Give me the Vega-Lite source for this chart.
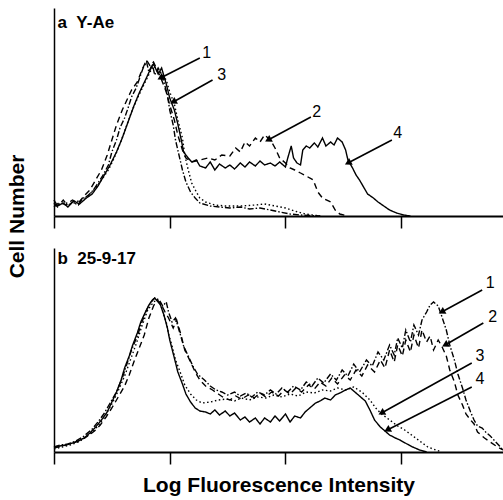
{
  "$schema": "https://vega.github.io/schema/vega-lite/v6.json",
  "background": "white",
  "padding": {"left": 6, "top": 8, "right": 0, "bottom": 2},
  "bounds": "flush",
  "spacing": 32,
  "config": {
    "view": {"stroke": null},
    "font": "Liberation Sans",
    "axis": {"grid": false}
  },
  "datasets": {
    "curves": [
      {"p":"a","c":"1","x":0,"y":13},{"p":"a","c":"1","x":0.03,"y":9},{"p":"a","c":"1","x":0.08,"y":16},{"p":"a","c":"1","x":0.12,"y":10},{"p":"a","c":"1","x":0.16,"y":14},{"p":"a","c":"1","x":0.21,"y":11},{"p":"a","c":"1","x":0.25,"y":18},{"p":"a","c":"1","x":0.29,"y":20},{"p":"a","c":"1","x":0.34,"y":26},{"p":"a","c":"1","x":0.38,"y":33},{"p":"a","c":"1","x":0.42,"y":40},{"p":"a","c":"1","x":0.47,"y":51},{"p":"a","c":"1","x":0.50,"y":64},{"p":"a","c":"1","x":0.54,"y":76},{"p":"a","c":"1","x":0.57,"y":88},{"p":"a","c":"1","x":0.61,"y":98},{"p":"a","c":"1","x":0.64,"y":108},{"p":"a","c":"1","x":0.67,"y":119},{"p":"a","c":"1","x":0.71,"y":128},{"p":"a","c":"1","x":0.74,"y":138},{"p":"a","c":"1","x":0.77,"y":148},{"p":"a","c":"1","x":0.80,"y":154},{"p":"a","c":"1","x":0.82,"y":144},{"p":"a","c":"1","x":0.85,"y":152},{"p":"a","c":"1","x":0.87,"y":141},{"p":"a","c":"1","x":0.90,"y":148},{"p":"a","c":"1","x":0.92,"y":144},{"p":"a","c":"1","x":0.95,"y":134},{"p":"a","c":"1","x":0.98,"y":121},{"p":"a","c":"1","x":1.00,"y":106},{"p":"a","c":"1","x":1.03,"y":91},{"p":"a","c":"1","x":1.05,"y":76},{"p":"a","c":"1","x":1.08,"y":61},{"p":"a","c":"1","x":1.11,"y":46},{"p":"a","c":"1","x":1.14,"y":34},{"p":"a","c":"1","x":1.18,"y":24},{"p":"a","c":"1","x":1.22,"y":18},{"p":"a","c":"1","x":1.26,"y":13},{"p":"a","c":"1","x":1.35,"y":10},{"p":"a","c":"1","x":1.43,"y":9},{"p":"a","c":"1","x":1.52,"y":8},{"p":"a","c":"1","x":1.61,"y":9},{"p":"a","c":"1","x":1.69,"y":7},{"p":"a","c":"1","x":1.78,"y":8},{"p":"a","c":"1","x":1.87,"y":6},{"p":"a","c":"1","x":1.95,"y":4},{"p":"a","c":"1","x":2.04,"y":2},{"p":"a","c":"1","x":2.13,"y":1},{"p":"a","c":"1","x":2.30,"y":0},

      {"p":"a","c":"3","x":0,"y":11},{"p":"a","c":"3","x":0.05,"y":12},{"p":"a","c":"3","x":0.10,"y":13},{"p":"a","c":"3","x":0.16,"y":12},{"p":"a","c":"3","x":0.21,"y":15},{"p":"a","c":"3","x":0.26,"y":17},{"p":"a","c":"3","x":0.31,"y":22},{"p":"a","c":"3","x":0.36,"y":28},{"p":"a","c":"3","x":0.41,"y":36},{"p":"a","c":"3","x":0.47,"y":46},{"p":"a","c":"3","x":0.52,"y":58},{"p":"a","c":"3","x":0.57,"y":72},{"p":"a","c":"3","x":0.62,"y":88},{"p":"a","c":"3","x":0.67,"y":104},{"p":"a","c":"3","x":0.73,"y":120},{"p":"a","c":"3","x":0.78,"y":132},{"p":"a","c":"3","x":0.83,"y":144},{"p":"a","c":"3","x":0.86,"y":150},{"p":"a","c":"3","x":0.90,"y":146},{"p":"a","c":"3","x":0.93,"y":142},{"p":"a","c":"3","x":0.97,"y":136},{"p":"a","c":"3","x":1.00,"y":124},{"p":"a","c":"3","x":1.04,"y":112},{"p":"a","c":"3","x":1.07,"y":96},{"p":"a","c":"3","x":1.11,"y":78},{"p":"a","c":"3","x":1.13,"y":61},{"p":"a","c":"3","x":1.16,"y":46},{"p":"a","c":"3","x":1.19,"y":33},{"p":"a","c":"3","x":1.23,"y":24},{"p":"a","c":"3","x":1.26,"y":18},{"p":"a","c":"3","x":1.31,"y":14},{"p":"a","c":"3","x":1.39,"y":11},{"p":"a","c":"3","x":1.48,"y":10},{"p":"a","c":"3","x":1.61,"y":10},{"p":"a","c":"3","x":1.74,"y":11},{"p":"a","c":"3","x":1.82,"y":12},{"p":"a","c":"3","x":1.91,"y":10},{"p":"a","c":"3","x":2.00,"y":8},{"p":"a","c":"3","x":2.08,"y":5},{"p":"a","c":"3","x":2.17,"y":2},{"p":"a","c":"3","x":2.30,"y":0},

      {"p":"a","c":"2","x":0,"y":9},{"p":"a","c":"2","x":0.05,"y":14},{"p":"a","c":"2","x":0.10,"y":11},{"p":"a","c":"2","x":0.16,"y":16},{"p":"a","c":"2","x":0.21,"y":13},{"p":"a","c":"2","x":0.26,"y":20},{"p":"a","c":"2","x":0.31,"y":26},{"p":"a","c":"2","x":0.36,"y":36},{"p":"a","c":"2","x":0.41,"y":46},{"p":"a","c":"2","x":0.46,"y":61},{"p":"a","c":"2","x":0.50,"y":76},{"p":"a","c":"2","x":0.54,"y":91},{"p":"a","c":"2","x":0.59,"y":106},{"p":"a","c":"2","x":0.63,"y":116},{"p":"a","c":"2","x":0.67,"y":126},{"p":"a","c":"2","x":0.72,"y":134},{"p":"a","c":"2","x":0.76,"y":146},{"p":"a","c":"2","x":0.80,"y":156},{"p":"a","c":"2","x":0.83,"y":150},{"p":"a","c":"2","x":0.86,"y":154},{"p":"a","c":"2","x":0.90,"y":144},{"p":"a","c":"2","x":0.93,"y":136},{"p":"a","c":"2","x":0.97,"y":124},{"p":"a","c":"2","x":1.00,"y":111},{"p":"a","c":"2","x":1.04,"y":96},{"p":"a","c":"2","x":1.07,"y":81},{"p":"a","c":"2","x":1.11,"y":66},{"p":"a","c":"2","x":1.14,"y":58},{"p":"a","c":"2","x":1.19,"y":54},{"p":"a","c":"2","x":1.26,"y":56},{"p":"a","c":"2","x":1.33,"y":58},{"p":"a","c":"2","x":1.39,"y":56},{"p":"a","c":"2","x":1.45,"y":61},{"p":"a","c":"2","x":1.52,"y":60},{"p":"a","c":"2","x":1.57,"y":68},{"p":"a","c":"2","x":1.61,"y":64},{"p":"a","c":"2","x":1.65,"y":74},{"p":"a","c":"2","x":1.69,"y":70},{"p":"a","c":"2","x":1.74,"y":78},{"p":"a","c":"2","x":1.78,"y":74},{"p":"a","c":"2","x":1.82,"y":81},{"p":"a","c":"2","x":1.87,"y":76},{"p":"a","c":"2","x":1.91,"y":68},{"p":"a","c":"2","x":1.95,"y":58},{"p":"a","c":"2","x":2.00,"y":53},{"p":"a","c":"2","x":2.04,"y":48},{"p":"a","c":"2","x":2.08,"y":46},{"p":"a","c":"2","x":2.13,"y":43},{"p":"a","c":"2","x":2.18,"y":40},{"p":"a","c":"2","x":2.24,"y":36},{"p":"a","c":"2","x":2.28,"y":24},{"p":"a","c":"2","x":2.32,"y":18},{"p":"a","c":"2","x":2.39,"y":14},{"p":"a","c":"2","x":2.43,"y":6},{"p":"a","c":"2","x":2.47,"y":2},{"p":"a","c":"2","x":2.54,"y":0},

      {"p":"a","c":"4","x":0,"y":16},{"p":"a","c":"4","x":0.03,"y":10},{"p":"a","c":"4","x":0.08,"y":13},{"p":"a","c":"4","x":0.12,"y":9},{"p":"a","c":"4","x":0.17,"y":15},{"p":"a","c":"4","x":0.22,"y":12},{"p":"a","c":"4","x":0.28,"y":18},{"p":"a","c":"4","x":0.33,"y":22},{"p":"a","c":"4","x":0.38,"y":30},{"p":"a","c":"4","x":0.43,"y":40},{"p":"a","c":"4","x":0.48,"y":50},{"p":"a","c":"4","x":0.54,"y":64},{"p":"a","c":"4","x":0.59,"y":78},{"p":"a","c":"4","x":0.64,"y":94},{"p":"a","c":"4","x":0.69,"y":110},{"p":"a","c":"4","x":0.74,"y":124},{"p":"a","c":"4","x":0.79,"y":136},{"p":"a","c":"4","x":0.83,"y":146},{"p":"a","c":"4","x":0.86,"y":152},{"p":"a","c":"4","x":0.90,"y":142},{"p":"a","c":"4","x":0.93,"y":148},{"p":"a","c":"4","x":0.97,"y":132},{"p":"a","c":"4","x":1.00,"y":118},{"p":"a","c":"4","x":1.04,"y":106},{"p":"a","c":"4","x":1.07,"y":92},{"p":"a","c":"4","x":1.10,"y":76},{"p":"a","c":"4","x":1.12,"y":64},{"p":"a","c":"4","x":1.16,"y":58},{"p":"a","c":"4","x":1.19,"y":54},{"p":"a","c":"4","x":1.23,"y":56},{"p":"a","c":"4","x":1.26,"y":50},{"p":"a","c":"4","x":1.31,"y":48},{"p":"a","c":"4","x":1.35,"y":54},{"p":"a","c":"4","x":1.39,"y":46},{"p":"a","c":"4","x":1.43,"y":52},{"p":"a","c":"4","x":1.48,"y":48},{"p":"a","c":"4","x":1.52,"y":51},{"p":"a","c":"4","x":1.56,"y":47},{"p":"a","c":"4","x":1.61,"y":53},{"p":"a","c":"4","x":1.65,"y":49},{"p":"a","c":"4","x":1.69,"y":54},{"p":"a","c":"4","x":1.74,"y":50},{"p":"a","c":"4","x":1.78,"y":55},{"p":"a","c":"4","x":1.82,"y":51},{"p":"a","c":"4","x":1.87,"y":53},{"p":"a","c":"4","x":1.91,"y":50},{"p":"a","c":"4","x":1.95,"y":54},{"p":"a","c":"4","x":2.00,"y":49},{"p":"a","c":"4","x":2.02,"y":58},{"p":"a","c":"4","x":2.05,"y":70},{"p":"a","c":"4","x":2.07,"y":58},{"p":"a","c":"4","x":2.10,"y":53},{"p":"a","c":"4","x":2.13,"y":51},{"p":"a","c":"4","x":2.15,"y":66},{"p":"a","c":"4","x":2.18,"y":70},{"p":"a","c":"4","x":2.21,"y":68},{"p":"a","c":"4","x":2.25,"y":73},{"p":"a","c":"4","x":2.28,"y":69},{"p":"a","c":"4","x":2.32,"y":78},{"p":"a","c":"4","x":2.35,"y":70},{"p":"a","c":"4","x":2.39,"y":74},{"p":"a","c":"4","x":2.42,"y":71},{"p":"a","c":"4","x":2.45,"y":78},{"p":"a","c":"4","x":2.49,"y":74},{"p":"a","c":"4","x":2.52,"y":66},{"p":"a","c":"4","x":2.54,"y":56},{"p":"a","c":"4","x":2.58,"y":48},{"p":"a","c":"4","x":2.61,"y":41},{"p":"a","c":"4","x":2.64,"y":36},{"p":"a","c":"4","x":2.68,"y":28},{"p":"a","c":"4","x":2.71,"y":22},{"p":"a","c":"4","x":2.76,"y":18},{"p":"a","c":"4","x":2.80,"y":14},{"p":"a","c":"4","x":2.85,"y":10},{"p":"a","c":"4","x":2.90,"y":6},{"p":"a","c":"4","x":2.96,"y":3},{"p":"a","c":"4","x":3.02,"y":1},{"p":"a","c":"4","x":3.08,"y":0},

      {"p":"b","c":"4","x":0,"y":5},{"p":"b","c":"4","x":0.05,"y":6},{"p":"b","c":"4","x":0.10,"y":7},{"p":"b","c":"4","x":0.16,"y":9},{"p":"b","c":"4","x":0.21,"y":11},{"p":"b","c":"4","x":0.26,"y":14},{"p":"b","c":"4","x":0.31,"y":19},{"p":"b","c":"4","x":0.36,"y":25},{"p":"b","c":"4","x":0.41,"y":32},{"p":"b","c":"4","x":0.46,"y":40},{"p":"b","c":"4","x":0.50,"y":50},{"p":"b","c":"4","x":0.54,"y":60},{"p":"b","c":"4","x":0.58,"y":72},{"p":"b","c":"4","x":0.61,"y":84},{"p":"b","c":"4","x":0.65,"y":96},{"p":"b","c":"4","x":0.68,"y":107},{"p":"b","c":"4","x":0.72,"y":119},{"p":"b","c":"4","x":0.75,"y":130},{"p":"b","c":"4","x":0.79,"y":140},{"p":"b","c":"4","x":0.82,"y":147},{"p":"b","c":"4","x":0.85,"y":152},{"p":"b","c":"4","x":0.87,"y":154},{"p":"b","c":"4","x":0.90,"y":150},{"p":"b","c":"4","x":0.92,"y":147},{"p":"b","c":"4","x":0.95,"y":137},{"p":"b","c":"4","x":0.98,"y":124},{"p":"b","c":"4","x":1.00,"y":112},{"p":"b","c":"4","x":1.04,"y":94},{"p":"b","c":"4","x":1.07,"y":80},{"p":"b","c":"4","x":1.11,"y":68},{"p":"b","c":"4","x":1.14,"y":58},{"p":"b","c":"4","x":1.18,"y":50},{"p":"b","c":"4","x":1.22,"y":44},{"p":"b","c":"4","x":1.26,"y":41},{"p":"b","c":"4","x":1.31,"y":40},{"p":"b","c":"4","x":1.35,"y":38},{"p":"b","c":"4","x":1.39,"y":42},{"p":"b","c":"4","x":1.43,"y":37},{"p":"b","c":"4","x":1.48,"y":41},{"p":"b","c":"4","x":1.52,"y":36},{"p":"b","c":"4","x":1.56,"y":39},{"p":"b","c":"4","x":1.61,"y":32},{"p":"b","c":"4","x":1.65,"y":35},{"p":"b","c":"4","x":1.69,"y":30},{"p":"b","c":"4","x":1.74,"y":34},{"p":"b","c":"4","x":1.78,"y":28},{"p":"b","c":"4","x":1.82,"y":34},{"p":"b","c":"4","x":1.87,"y":30},{"p":"b","c":"4","x":1.91,"y":36},{"p":"b","c":"4","x":1.95,"y":31},{"p":"b","c":"4","x":2.00,"y":38},{"p":"b","c":"4","x":2.04,"y":30},{"p":"b","c":"4","x":2.08,"y":36},{"p":"b","c":"4","x":2.13,"y":34},{"p":"b","c":"4","x":2.17,"y":40},{"p":"b","c":"4","x":2.21,"y":44},{"p":"b","c":"4","x":2.26,"y":49},{"p":"b","c":"4","x":2.30,"y":51},{"p":"b","c":"4","x":2.34,"y":54},{"p":"b","c":"4","x":2.39,"y":52},{"p":"b","c":"4","x":2.43,"y":57},{"p":"b","c":"4","x":2.47,"y":59},{"p":"b","c":"4","x":2.52,"y":62},{"p":"b","c":"4","x":2.56,"y":64},{"p":"b","c":"4","x":2.60,"y":60},{"p":"b","c":"4","x":2.64,"y":56},{"p":"b","c":"4","x":2.69,"y":51},{"p":"b","c":"4","x":2.73,"y":42},{"p":"b","c":"4","x":2.77,"y":32},{"p":"b","c":"4","x":2.82,"y":25},{"p":"b","c":"4","x":2.86,"y":21},{"p":"b","c":"4","x":2.90,"y":17},{"p":"b","c":"4","x":2.95,"y":14},{"p":"b","c":"4","x":2.99,"y":12},{"p":"b","c":"4","x":3.05,"y":8},{"p":"b","c":"4","x":3.10,"y":5},{"p":"b","c":"4","x":3.16,"y":2},{"p":"b","c":"4","x":3.22,"y":0},

      {"p":"b","c":"3","x":0,"y":3},{"p":"b","c":"3","x":0.07,"y":5},{"p":"b","c":"3","x":0.14,"y":7},{"p":"b","c":"3","x":0.21,"y":10},{"p":"b","c":"3","x":0.28,"y":15},{"p":"b","c":"3","x":0.35,"y":22},{"p":"b","c":"3","x":0.40,"y":29},{"p":"b","c":"3","x":0.45,"y":38},{"p":"b","c":"3","x":0.50,"y":48},{"p":"b","c":"3","x":0.55,"y":60},{"p":"b","c":"3","x":0.61,"y":76},{"p":"b","c":"3","x":0.66,"y":92},{"p":"b","c":"3","x":0.71,"y":108},{"p":"b","c":"3","x":0.76,"y":126},{"p":"b","c":"3","x":0.81,"y":142},{"p":"b","c":"3","x":0.86,"y":150},{"p":"b","c":"3","x":0.89,"y":152},{"p":"b","c":"3","x":0.92,"y":148},{"p":"b","c":"3","x":0.94,"y":140},{"p":"b","c":"3","x":0.97,"y":130},{"p":"b","c":"3","x":0.99,"y":118},{"p":"b","c":"3","x":1.02,"y":106},{"p":"b","c":"3","x":1.05,"y":92},{"p":"b","c":"3","x":1.09,"y":80},{"p":"b","c":"3","x":1.13,"y":67},{"p":"b","c":"3","x":1.18,"y":58},{"p":"b","c":"3","x":1.23,"y":52},{"p":"b","c":"3","x":1.28,"y":49},{"p":"b","c":"3","x":1.35,"y":50},{"p":"b","c":"3","x":1.42,"y":52},{"p":"b","c":"3","x":1.49,"y":53},{"p":"b","c":"3","x":1.56,"y":51},{"p":"b","c":"3","x":1.62,"y":54},{"p":"b","c":"3","x":1.69,"y":52},{"p":"b","c":"3","x":1.76,"y":55},{"p":"b","c":"3","x":1.83,"y":54},{"p":"b","c":"3","x":1.90,"y":57},{"p":"b","c":"3","x":1.97,"y":55},{"p":"b","c":"3","x":2.04,"y":58},{"p":"b","c":"3","x":2.11,"y":56},{"p":"b","c":"3","x":2.18,"y":60},{"p":"b","c":"3","x":2.25,"y":59},{"p":"b","c":"3","x":2.32,"y":62},{"p":"b","c":"3","x":2.39,"y":61},{"p":"b","c":"3","x":2.45,"y":64},{"p":"b","c":"3","x":2.52,"y":62},{"p":"b","c":"3","x":2.59,"y":65},{"p":"b","c":"3","x":2.66,"y":60},{"p":"b","c":"3","x":2.73,"y":52},{"p":"b","c":"3","x":2.78,"y":44},{"p":"b","c":"3","x":2.83,"y":38},{"p":"b","c":"3","x":2.90,"y":32},{"p":"b","c":"3","x":2.97,"y":26},{"p":"b","c":"3","x":3.03,"y":22},{"p":"b","c":"3","x":3.09,"y":17},{"p":"b","c":"3","x":3.16,"y":11},{"p":"b","c":"3","x":3.23,"y":5},{"p":"b","c":"3","x":3.30,"y":2},{"p":"b","c":"3","x":3.35,"y":0},

      {"p":"b","c":"2","x":0,"y":4},{"p":"b","c":"2","x":0.07,"y":6},{"p":"b","c":"2","x":0.14,"y":8},{"p":"b","c":"2","x":0.21,"y":11},{"p":"b","c":"2","x":0.28,"y":15},{"p":"b","c":"2","x":0.35,"y":21},{"p":"b","c":"2","x":0.40,"y":27},{"p":"b","c":"2","x":0.45,"y":35},{"p":"b","c":"2","x":0.50,"y":44},{"p":"b","c":"2","x":0.55,"y":54},{"p":"b","c":"2","x":0.61,"y":66},{"p":"b","c":"2","x":0.65,"y":77},{"p":"b","c":"2","x":0.69,"y":90},{"p":"b","c":"2","x":0.73,"y":102},{"p":"b","c":"2","x":0.78,"y":117},{"p":"b","c":"2","x":0.82,"y":134},{"p":"b","c":"2","x":0.86,"y":146},{"p":"b","c":"2","x":0.89,"y":152},{"p":"b","c":"2","x":0.92,"y":149},{"p":"b","c":"2","x":0.96,"y":140},{"p":"b","c":"2","x":0.99,"y":134},{"p":"b","c":"2","x":1.03,"y":124},{"p":"b","c":"2","x":1.06,"y":132},{"p":"b","c":"2","x":1.10,"y":116},{"p":"b","c":"2","x":1.13,"y":102},{"p":"b","c":"2","x":1.18,"y":90},{"p":"b","c":"2","x":1.22,"y":80},{"p":"b","c":"2","x":1.26,"y":72},{"p":"b","c":"2","x":1.31,"y":66},{"p":"b","c":"2","x":1.37,"y":62},{"p":"b","c":"2","x":1.42,"y":58},{"p":"b","c":"2","x":1.47,"y":54},{"p":"b","c":"2","x":1.52,"y":52},{"p":"b","c":"2","x":1.57,"y":56},{"p":"b","c":"2","x":1.62,"y":53},{"p":"b","c":"2","x":1.68,"y":57},{"p":"b","c":"2","x":1.73,"y":54},{"p":"b","c":"2","x":1.78,"y":59},{"p":"b","c":"2","x":1.83,"y":55},{"p":"b","c":"2","x":1.88,"y":60},{"p":"b","c":"2","x":1.94,"y":56},{"p":"b","c":"2","x":1.99,"y":62},{"p":"b","c":"2","x":2.04,"y":58},{"p":"b","c":"2","x":2.09,"y":64},{"p":"b","c":"2","x":2.14,"y":60},{"p":"b","c":"2","x":2.20,"y":67},{"p":"b","c":"2","x":2.25,"y":63},{"p":"b","c":"2","x":2.30,"y":70},{"p":"b","c":"2","x":2.35,"y":66},{"p":"b","c":"2","x":2.40,"y":74},{"p":"b","c":"2","x":2.45,"y":68},{"p":"b","c":"2","x":2.51,"y":77},{"p":"b","c":"2","x":2.56,"y":72},{"p":"b","c":"2","x":2.61,"y":82},{"p":"b","c":"2","x":2.66,"y":76},{"p":"b","c":"2","x":2.71,"y":87},{"p":"b","c":"2","x":2.77,"y":80},{"p":"b","c":"2","x":2.82,"y":92},{"p":"b","c":"2","x":2.86,"y":84},{"p":"b","c":"2","x":2.90,"y":102},{"p":"b","c":"2","x":2.94,"y":90},{"p":"b","c":"2","x":2.97,"y":107},{"p":"b","c":"2","x":3.01,"y":96},{"p":"b","c":"2","x":3.04,"y":112},{"p":"b","c":"2","x":3.08,"y":100},{"p":"b","c":"2","x":3.11,"y":117},{"p":"b","c":"2","x":3.15,"y":104},{"p":"b","c":"2","x":3.18,"y":122},{"p":"b","c":"2","x":3.22,"y":110},{"p":"b","c":"2","x":3.25,"y":116},{"p":"b","c":"2","x":3.28,"y":102},{"p":"b","c":"2","x":3.32,"y":112},{"p":"b","c":"2","x":3.35,"y":106},{"p":"b","c":"2","x":3.39,"y":96},{"p":"b","c":"2","x":3.42,"y":82},{"p":"b","c":"2","x":3.46,"y":70},{"p":"b","c":"2","x":3.49,"y":57},{"p":"b","c":"2","x":3.53,"y":47},{"p":"b","c":"2","x":3.56,"y":38},{"p":"b","c":"2","x":3.60,"y":32},{"p":"b","c":"2","x":3.63,"y":28},{"p":"b","c":"2","x":3.66,"y":20},{"p":"b","c":"2","x":3.72,"y":14},{"p":"b","c":"2","x":3.77,"y":10},{"p":"b","c":"2","x":3.82,"y":6},{"p":"b","c":"2","x":3.88,"y":2},

      {"p":"b","c":"1","x":0,"y":5},{"p":"b","c":"1","x":0.05,"y":7},{"p":"b","c":"1","x":0.12,"y":8},{"p":"b","c":"1","x":0.19,"y":11},{"p":"b","c":"1","x":0.26,"y":16},{"p":"b","c":"1","x":0.33,"y":23},{"p":"b","c":"1","x":0.38,"y":30},{"p":"b","c":"1","x":0.43,"y":38},{"p":"b","c":"1","x":0.48,"y":48},{"p":"b","c":"1","x":0.54,"y":60},{"p":"b","c":"1","x":0.59,"y":74},{"p":"b","c":"1","x":0.63,"y":88},{"p":"b","c":"1","x":0.67,"y":102},{"p":"b","c":"1","x":0.72,"y":116},{"p":"b","c":"1","x":0.76,"y":130},{"p":"b","c":"1","x":0.80,"y":142},{"p":"b","c":"1","x":0.84,"y":150},{"p":"b","c":"1","x":0.87,"y":154},{"p":"b","c":"1","x":0.91,"y":152},{"p":"b","c":"1","x":0.94,"y":146},{"p":"b","c":"1","x":0.97,"y":150},{"p":"b","c":"1","x":0.99,"y":140},{"p":"b","c":"1","x":1.02,"y":130},{"p":"b","c":"1","x":1.05,"y":134},{"p":"b","c":"1","x":1.09,"y":118},{"p":"b","c":"1","x":1.12,"y":106},{"p":"b","c":"1","x":1.16,"y":96},{"p":"b","c":"1","x":1.20,"y":86},{"p":"b","c":"1","x":1.24,"y":78},{"p":"b","c":"1","x":1.30,"y":72},{"p":"b","c":"1","x":1.35,"y":66},{"p":"b","c":"1","x":1.40,"y":62},{"p":"b","c":"1","x":1.45,"y":60},{"p":"b","c":"1","x":1.50,"y":57},{"p":"b","c":"1","x":1.56,"y":60},{"p":"b","c":"1","x":1.61,"y":56},{"p":"b","c":"1","x":1.66,"y":59},{"p":"b","c":"1","x":1.71,"y":55},{"p":"b","c":"1","x":1.76,"y":60},{"p":"b","c":"1","x":1.82,"y":57},{"p":"b","c":"1","x":1.87,"y":62},{"p":"b","c":"1","x":1.92,"y":58},{"p":"b","c":"1","x":1.97,"y":64},{"p":"b","c":"1","x":2.02,"y":60},{"p":"b","c":"1","x":2.07,"y":66},{"p":"b","c":"1","x":2.13,"y":62},{"p":"b","c":"1","x":2.18,"y":70},{"p":"b","c":"1","x":2.23,"y":66},{"p":"b","c":"1","x":2.28,"y":74},{"p":"b","c":"1","x":2.33,"y":69},{"p":"b","c":"1","x":2.39,"y":78},{"p":"b","c":"1","x":2.44,"y":72},{"p":"b","c":"1","x":2.49,"y":82},{"p":"b","c":"1","x":2.54,"y":76},{"p":"b","c":"1","x":2.59,"y":88},{"p":"b","c":"1","x":2.64,"y":80},{"p":"b","c":"1","x":2.70,"y":92},{"p":"b","c":"1","x":2.75,"y":86},{"p":"b","c":"1","x":2.80,"y":100},{"p":"b","c":"1","x":2.85,"y":92},{"p":"b","c":"1","x":2.90,"y":107},{"p":"b","c":"1","x":2.94,"y":97},{"p":"b","c":"1","x":2.97,"y":114},{"p":"b","c":"1","x":3.01,"y":104},{"p":"b","c":"1","x":3.04,"y":122},{"p":"b","c":"1","x":3.08,"y":110},{"p":"b","c":"1","x":3.11,"y":127},{"p":"b","c":"1","x":3.15,"y":117},{"p":"b","c":"1","x":3.18,"y":132},{"p":"b","c":"1","x":3.22,"y":140},{"p":"b","c":"1","x":3.25,"y":147},{"p":"b","c":"1","x":3.28,"y":150},{"p":"b","c":"1","x":3.32,"y":146},{"p":"b","c":"1","x":3.35,"y":136},{"p":"b","c":"1","x":3.39,"y":122},{"p":"b","c":"1","x":3.42,"y":107},{"p":"b","c":"1","x":3.46,"y":92},{"p":"b","c":"1","x":3.49,"y":78},{"p":"b","c":"1","x":3.53,"y":64},{"p":"b","c":"1","x":3.56,"y":52},{"p":"b","c":"1","x":3.60,"y":40},{"p":"b","c":"1","x":3.63,"y":32},{"p":"b","c":"1","x":3.66,"y":26},{"p":"b","c":"1","x":3.70,"y":24},{"p":"b","c":"1","x":3.73,"y":20},{"p":"b","c":"1","x":3.77,"y":16},{"p":"b","c":"1","x":3.81,"y":11},{"p":"b","c":"1","x":3.85,"y":6},{"p":"b","c":"1","x":3.88,"y":2}
    ],
    "arrows": [
      {"p":"a","label":"1","x":1.26,"y":158,"hx":0.92,"hy":138,"lx":1.32,"ly":163},
      {"p":"a","label":"3","x":1.37,"y":136,"hx":1.03,"hy":114,"lx":1.45,"ly":141},
      {"p":"a","label":"2","x":2.22,"y":99,"hx":1.85,"hy":76,"lx":2.27,"ly":104},
      {"p":"a","label":"4","x":2.92,"y":76,"hx":2.54,"hy":53,"lx":2.97,"ly":83},
      {"p":"b","label":"1","x":3.70,"y":162,"hx":3.35,"hy":140,"lx":3.77,"ly":169},
      {"p":"b","label":"2","x":3.71,"y":129,"hx":3.38,"hy":107,"lx":3.79,"ly":135},
      {"p":"b","label":"3","x":3.61,"y":89,"hx":2.83,"hy":39,"lx":3.68,"ly":96},
      {"p":"b","label":"4","x":3.61,"y":65,"hx":2.88,"hy":22,"lx":3.68,"ly":73}
    ],
    "panels": [
      {"p":"a","t":"a\u00a0\u00a0Y-Ae","x":0.03,"y":193},
      {"p":"b","t":"b\u00a0\u00a025-9-17","x":0.03,"y":193}
    ]
  },
  "vconcat": [
    {
      "width": 449,
      "height": 208,
      "layer": [
        {
          "data": {"name": "curves"},
          "transform": [{"filter": "datum.p === 'a'"}],
          "mark": {"type": "line", "color": "black", "strokeWidth": 1.4},
          "encoding": {
            "x": {"field": "x", "type": "quantitative", "scale": {"domain": [0, 3.88], "nice": false, "zero": false},
              "axis": {"title": null, "values": [0, 1, 2, 3], "labels": false, "tickSize": 12, "tickColor": "black", "tickWidth": 1.5, "domainColor": "black", "domainWidth": 2}},
            "y": {"field": "y", "type": "quantitative", "scale": {"domain": [0, 208], "nice": false},
              "axis": {"title": "Cell Number", "titleX": -27, "titleY": 208, "titleFont": "Liberation Sans", "titleFontSize": 21, "titleFontWeight": "bold", "titleColor": "black", "ticks": false, "labels": false, "domainColor": "black", "domainWidth": 1.5}},
            "strokeDash": {"field": "c", "type": "nominal", "legend": null,
              "scale": {"domain": ["1", "2", "3", "4"], "range": [[6, 2, 1.5, 2], [6, 4], [1.5, 2.5], [1, 0]]}},
            "detail": {"field": "c"}
          }
        },
        {
          "data": {"name": "arrows"},
          "transform": [{"filter": "datum.p === 'a'"}],
          "mark": {"type": "rule", "color": "black", "strokeWidth": 1.6},
          "encoding": {
            "x": {"field": "x", "type": "quantitative", "scale": {"domain": [0, 3.88], "nice": false, "zero": false},
              "axis": {"title": null, "values": [0, 1, 2, 3], "labels": false, "tickSize": 12, "tickColor": "black", "tickWidth": 1.5, "domainColor": "black", "domainWidth": 2}},
            "y": {"field": "y", "type": "quantitative", "scale": {"domain": [0, 208], "nice": false},
              "axis": {"title": "Cell Number", "titleX": -27, "titleY": 208, "titleFont": "Liberation Sans", "titleFontSize": 21, "titleFontWeight": "bold", "titleColor": "black", "ticks": false, "labels": false, "domainColor": "black", "domainWidth": 1.5}},
            "x2": {"field": "hx"},
            "y2": {"field": "hy"}
          }
        },
        {
          "data": {"name": "arrows"},
          "transform": [{"filter": "datum.p === 'a'"}],
          "mark": {"type": "point", "shape": "triangle-left", "angle": 332, "filled": true, "size": 60, "color": "black", "opacity": 1},
          "encoding": {
            "x": {"field": "hx", "type": "quantitative", "scale": {"domain": [0, 3.88], "nice": false, "zero": false},
              "axis": {"title": null, "values": [0, 1, 2, 3], "labels": false, "tickSize": 12, "tickColor": "black", "tickWidth": 1.5, "domainColor": "black", "domainWidth": 2}},
            "y": {"field": "hy", "type": "quantitative", "scale": {"domain": [0, 208], "nice": false},
              "axis": {"title": "Cell Number", "titleX": -27, "titleY": 208, "titleFont": "Liberation Sans", "titleFontSize": 21, "titleFontWeight": "bold", "titleColor": "black", "ticks": false, "labels": false, "domainColor": "black", "domainWidth": 1.5}}
          }
        },
        {
          "data": {"name": "arrows"},
          "transform": [{"filter": "datum.p === 'a'"}],
          "mark": {"type": "text", "font": "Liberation Sans", "fontSize": 16, "color": "black", "align": "center", "baseline": "middle"},
          "encoding": {
            "x": {"field": "lx", "type": "quantitative", "scale": {"domain": [0, 3.88], "nice": false, "zero": false},
              "axis": {"title": null, "values": [0, 1, 2, 3], "labels": false, "tickSize": 12, "tickColor": "black", "tickWidth": 1.5, "domainColor": "black", "domainWidth": 2}},
            "y": {"field": "ly", "type": "quantitative", "scale": {"domain": [0, 208], "nice": false},
              "axis": {"title": "Cell Number", "titleX": -27, "titleY": 208, "titleFont": "Liberation Sans", "titleFontSize": 21, "titleFontWeight": "bold", "titleColor": "black", "ticks": false, "labels": false, "domainColor": "black", "domainWidth": 1.5}},
            "text": {"field": "label"}
          }
        },
        {
          "data": {"name": "panels"},
          "transform": [{"filter": "datum.p === 'a'"}],
          "mark": {"type": "text", "font": "Liberation Sans", "fontSize": 17, "fontWeight": "bold", "color": "black", "align": "left", "baseline": "middle"},
          "encoding": {
            "x": {"field": "x", "type": "quantitative", "scale": {"domain": [0, 3.88], "nice": false, "zero": false},
              "axis": {"title": null, "values": [0, 1, 2, 3], "labels": false, "tickSize": 12, "tickColor": "black", "tickWidth": 1.5, "domainColor": "black", "domainWidth": 2}},
            "y": {"field": "y", "type": "quantitative", "scale": {"domain": [0, 208], "nice": false},
              "axis": {"title": "Cell Number", "titleX": -27, "titleY": 208, "titleFont": "Liberation Sans", "titleFontSize": 21, "titleFontWeight": "bold", "titleColor": "black", "ticks": false, "labels": false, "domainColor": "black", "domainWidth": 1.5}},
            "text": {"field": "t"}
          }
        }
      ]
    },
    {
      "width": 449,
      "height": 204,
      "layer": [
        {
          "data": {"name": "curves"},
          "transform": [{"filter": "datum.p === 'b'"}],
          "mark": {"type": "line", "color": "black", "strokeWidth": 1.4},
          "encoding": {
            "x": {"field": "x", "type": "quantitative", "scale": {"domain": [0, 3.88], "nice": false, "zero": false},
              "axis": {"title": "Log Fluorescence Intensity", "titleFont": "Liberation Sans", "titleFontSize": 21, "titleFontWeight": "bold", "titleColor": "black", "titlePadding": 10, "values": [0, 1, 2, 3], "labels": false, "tickSize": 12, "tickColor": "black", "tickWidth": 1.5, "domainColor": "black", "domainWidth": 2}},
            "y": {"field": "y", "type": "quantitative", "scale": {"domain": [0, 204], "nice": false},
              "axis": {"title": null, "ticks": false, "labels": false, "domainColor": "black", "domainWidth": 1.5}},
            "strokeDash": {"field": "c", "type": "nominal", "legend": null,
              "scale": {"domain": ["1", "2", "3", "4"], "range": [[6, 2, 1.5, 2], [6, 4], [1.5, 2.5], [1, 0]]}},
            "detail": {"field": "c"}
          }
        },
        {
          "data": {"name": "arrows"},
          "transform": [{"filter": "datum.p === 'b'"}],
          "mark": {"type": "rule", "color": "black", "strokeWidth": 1.6},
          "encoding": {
            "x": {"field": "x", "type": "quantitative", "scale": {"domain": [0, 3.88], "nice": false, "zero": false},
              "axis": {"title": "Log Fluorescence Intensity", "titleFont": "Liberation Sans", "titleFontSize": 21, "titleFontWeight": "bold", "titleColor": "black", "titlePadding": 10, "values": [0, 1, 2, 3], "labels": false, "tickSize": 12, "tickColor": "black", "tickWidth": 1.5, "domainColor": "black", "domainWidth": 2}},
            "y": {"field": "y", "type": "quantitative", "scale": {"domain": [0, 204], "nice": false},
              "axis": {"title": null, "ticks": false, "labels": false, "domainColor": "black", "domainWidth": 1.5}},
            "x2": {"field": "hx"},
            "y2": {"field": "hy"}
          }
        },
        {
          "data": {"name": "arrows"},
          "transform": [{"filter": "datum.p === 'b'"}],
          "mark": {"type": "point", "shape": "triangle-left", "angle": 332, "filled": true, "size": 60, "color": "black", "opacity": 1},
          "encoding": {
            "x": {"field": "hx", "type": "quantitative", "scale": {"domain": [0, 3.88], "nice": false, "zero": false},
              "axis": {"title": "Log Fluorescence Intensity", "titleFont": "Liberation Sans", "titleFontSize": 21, "titleFontWeight": "bold", "titleColor": "black", "titlePadding": 10, "values": [0, 1, 2, 3], "labels": false, "tickSize": 12, "tickColor": "black", "tickWidth": 1.5, "domainColor": "black", "domainWidth": 2}},
            "y": {"field": "hy", "type": "quantitative", "scale": {"domain": [0, 204], "nice": false},
              "axis": {"title": null, "ticks": false, "labels": false, "domainColor": "black", "domainWidth": 1.5}}
          }
        },
        {
          "data": {"name": "arrows"},
          "transform": [{"filter": "datum.p === 'b'"}],
          "mark": {"type": "text", "font": "Liberation Sans", "fontSize": 16, "color": "black", "align": "center", "baseline": "middle"},
          "encoding": {
            "x": {"field": "lx", "type": "quantitative", "scale": {"domain": [0, 3.88], "nice": false, "zero": false},
              "axis": {"title": "Log Fluorescence Intensity", "titleFont": "Liberation Sans", "titleFontSize": 21, "titleFontWeight": "bold", "titleColor": "black", "titlePadding": 10, "values": [0, 1, 2, 3], "labels": false, "tickSize": 12, "tickColor": "black", "tickWidth": 1.5, "domainColor": "black", "domainWidth": 2}},
            "y": {"field": "ly", "type": "quantitative", "scale": {"domain": [0, 204], "nice": false},
              "axis": {"title": null, "ticks": false, "labels": false, "domainColor": "black", "domainWidth": 1.5}},
            "text": {"field": "label"}
          }
        },
        {
          "data": {"name": "panels"},
          "transform": [{"filter": "datum.p === 'b'"}],
          "mark": {"type": "text", "font": "Liberation Sans", "fontSize": 17, "fontWeight": "bold", "color": "black", "align": "left", "baseline": "middle"},
          "encoding": {
            "x": {"field": "x", "type": "quantitative", "scale": {"domain": [0, 3.88], "nice": false, "zero": false},
              "axis": {"title": "Log Fluorescence Intensity", "titleFont": "Liberation Sans", "titleFontSize": 21, "titleFontWeight": "bold", "titleColor": "black", "titlePadding": 10, "values": [0, 1, 2, 3], "labels": false, "tickSize": 12, "tickColor": "black", "tickWidth": 1.5, "domainColor": "black", "domainWidth": 2}},
            "y": {"field": "y", "type": "quantitative", "scale": {"domain": [0, 204], "nice": false},
              "axis": {"title": null, "ticks": false, "labels": false, "domainColor": "black", "domainWidth": 1.5}},
            "text": {"field": "t"}
          }
        }
      ]
    }
  ]
}
